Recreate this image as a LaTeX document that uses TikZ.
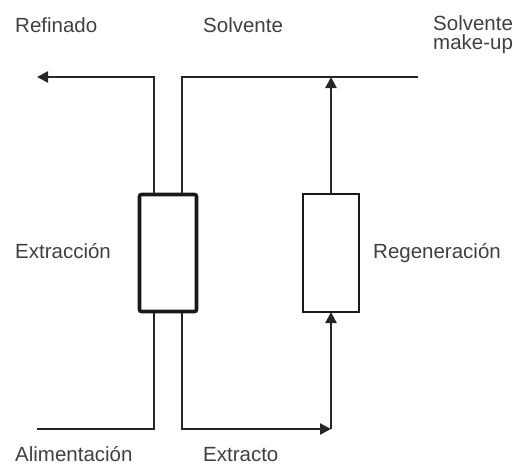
\documentclass[tikz,border=0pt]{standalone}
\usepackage{fontspec}
\setmainfont{Liberation Sans}
\usetikzlibrary{arrows.meta}
\begin{document}
\begin{tikzpicture}[x=1pt,y=-1pt,
  flow/.style={line width=2.3pt,draw=black!85},
  arr/.style={-{Triangle[length=11pt,width=11pt]}},
  extbox/.style={draw=black!90,line width=3.6pt,rounded corners=2pt,minimum width=57pt,minimum height=117pt,inner sep=0pt},
  regbox/.style={draw=black!90,line width=2.6pt,minimum width=56pt,minimum height=118pt,inner sep=0pt},
  lbl/.style={anchor=base west,inner sep=0pt,font=\fontsize{20.5}{18}\selectfont,text=black!75,align=left}]
\useasboundingbox (0,0) rectangle (513,466);
% units
\node[extbox] (ext) at (168,253) {};
\node[regbox] (reg) at (331,253) {};
% coordinates
\coordinate (refout) at (37,77);
\coordinate (rc) at (154,77);
\coordinate (et1) at (154,193);
\coordinate (et2) at (182,193);
\coordinate (sc) at (182,77);
\coordinate (mk) at (418,77);
\coordinate (rt) at (331,194);
\coordinate (rtop) at (331,77);
\coordinate (eb1) at (154,313);
\coordinate (eb2) at (182,313);
\coordinate (ac) at (154,429);
\coordinate (ain) at (37,429);
\coordinate (xc) at (182,429);
\coordinate (xr) at (331,429);
\coordinate (rb) at (331,312);
% streams
\draw[flow,arr] (et1) -- (rc) -- (refout);
\draw[flow] (et2) -- (sc) -- (mk);
\draw[flow,arr] (rt) -- (rtop);
\draw[flow] (ain) -- (ac) -- (eb1);
\draw[flow,arr] (eb2) -- (xc) -- (xr);
\draw[flow,arr] (xr) -- (rb);
% labels
\node[lbl] (lref) at (15,32) {Refinado};
\node[lbl] (lsol) at (203,32) {Solvente};
\node[lbl] (lmk1) at (433,30) {Solvente};
\node[lbl] (lmk2) at (433,49) {make-up};
\node[lbl] (lext) at (15,258) {Extracción};
\node[lbl] (lreg) at (373,258) {Regeneración};
\node[lbl] (lali) at (15,461) {Alimentación};
\node[lbl] (lxt) at (203,461) {Extracto};
\end{tikzpicture}
\end{document}
